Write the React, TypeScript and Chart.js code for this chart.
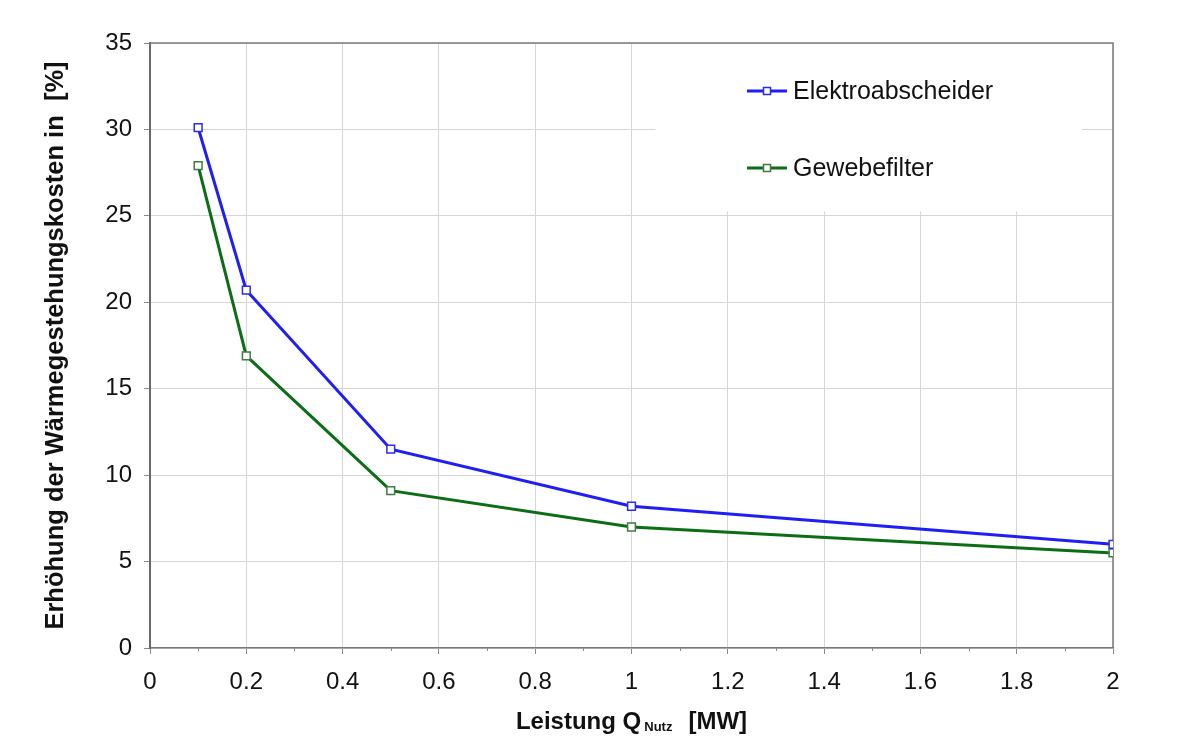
import React, { useEffect, useRef } from "react";
import { Chart, registerables } from "chart.js";

Chart.register(...registerables);

const xValues = [0.1, 0.2, 0.5, 1, 2];
const elektroabscheider = [30.1, 20.7, 11.5, 8.2, 6.0];
const gewebefilter = [27.9, 16.9, 9.1, 7.0, 5.5];
const seriesNames = ["Elektroabscheider", "Gewebefilter"];
const seriesColors = ["#1e1ef5", "#0b6e14"];
const markerBorders = ["#2a2af0", "#3f7a40"];
const yTitle = "Erhöhung der Wärmegestehungskosten in  [%]";
const xTitleMain = "Leistung Q";
const xTitleSub = "Nutz";
const xTitleUnit = "[MW]";

const FONT = "'Liberation Sans', Arial, Helvetica, sans-serif";

const customPlugin = {
  id: "custom",
  beforeDatasetsDraw(chart: any) {
    const { ctx, chartArea } = chart;
    const xs = chart.scales.x;
    const ys = chart.scales.y;
    ctx.save();
    // white legend box covering grid
    const bx0 = xs.getPixelForValue(1.05);
    const bx1 = xs.getPixelForValue(1.935);
    const by0 = chartArea.top + 1;
    const by1 = ys.getPixelForValue(25.25);
    ctx.fillStyle = "#ffffff";
    ctx.fillRect(bx0, by0, bx1 - bx0, by1 - by0);
    // top & right border
    ctx.strokeStyle = "#7a7a7a";
    ctx.lineWidth = 1.5;
    ctx.beginPath();
    ctx.moveTo(chartArea.left, chartArea.top);
    ctx.lineTo(chartArea.right, chartArea.top);
    ctx.lineTo(chartArea.right, chartArea.bottom);
    ctx.stroke();
    // minor ticks on x axis
    ctx.strokeStyle = "#8a8a8a";
    ctx.lineWidth = 1;
    for (let i = 1; i < 20; i += 2) {
      const px = Math.round(xs.getPixelForValue(i / 10)) + 0.5;
      ctx.beginPath();
      ctx.moveTo(px, chartArea.bottom);
      ctx.lineTo(px, chartArea.bottom + 3);
      ctx.stroke();
    }
    ctx.restore();
  },
  afterDraw(chart: any) {
    const { ctx, chartArea } = chart;
    ctx.save();
    // legend
    const lx0 = 747;
    const lx1 = 787;
    const rows = [91, 168];
    seriesNames.forEach((name, i) => {
      const y = rows[i];
      ctx.strokeStyle = seriesColors[i];
      ctx.lineWidth = 3;
      ctx.beginPath();
      ctx.moveTo(lx0, y);
      ctx.lineTo(lx1, y);
      ctx.stroke();
      ctx.fillStyle = "#ffffff";
      ctx.strokeStyle = markerBorders[i];
      ctx.lineWidth = 1.5;
      ctx.fillRect(763.5, y - 3.5, 7, 7);
      ctx.strokeRect(763.5, y - 3.5, 7, 7);
      ctx.fillStyle = "#111111";
      ctx.font = `25px ${FONT}`;
      ctx.textBaseline = "middle";
      ctx.textAlign = "left";
      ctx.fillText(name, 793, y + 1);
    });
    // x title with subscript
    const mainFont = `bold 24px ${FONT}`;
    const subFont = `bold 13px ${FONT}`;
    ctx.font = mainFont;
    const w1 = ctx.measureText(xTitleMain).width;
    const w3 = ctx.measureText(xTitleUnit).width;
    ctx.font = subFont;
    const w2 = ctx.measureText(xTitleSub).width;
    const gap1 = 3;
    const gap2 = 16;
    const total = w1 + gap1 + w2 + gap2 + w3;
    const cx = (chartArea.left + chartArea.right) / 2;
    let x = cx - total / 2;
    const base = 729;
    ctx.fillStyle = "#111111";
    ctx.textBaseline = "alphabetic";
    ctx.textAlign = "left";
    ctx.font = mainFont;
    ctx.fillText(xTitleMain, x, base);
    x += w1 + gap1;
    ctx.font = subFont;
    ctx.fillText(xTitleSub, x, base + 2);
    x += w2 + gap2;
    ctx.font = mainFont;
    ctx.fillText(xTitleUnit, x, base);
    ctx.restore();
  },
};

export default function App() {
  const canvasRef = useRef<HTMLCanvasElement | null>(null);

  useEffect(() => {
    if (!canvasRef.current) return;
    const makeData = (vals: number[]) => xValues.map((x, i) => ({ x, y: vals[i] }));
    const chart = new Chart(canvasRef.current, {
      type: "line",
      data: {
        datasets: [elektroabscheider, gewebefilter].map((vals, i) => ({
          label: seriesNames[i],
          data: makeData(vals),
          borderColor: seriesColors[i],
          borderWidth: 3,
          pointStyle: "rect",
          pointRadius: 5.5,
          pointBorderWidth: 1.5,
          pointBorderColor: markerBorders[i],
          pointBackgroundColor: "#ffffff",
          tension: 0,
          fill: false,
        })),
      },
      options: {
        animation: false,
        responsive: true,
        maintainAspectRatio: false,
        layout: { padding: { top: 43, right: 83, left: 0, bottom: 0 } },
        plugins: {
          legend: { display: false },
          tooltip: { enabled: false },
        },
        scales: {
          x: {
            type: "linear",
            min: 0,
            max: 2,
            afterFit: (s: any) => {
              s.height = 98;
            },
            ticks: {
              stepSize: 0.2,
              color: "#111111",
              font: { family: FONT, size: 24 },
              padding: 14,
              maxRotation: 0,
              callback: (v: any) => {
                const n = Math.round(Number(v) * 10) / 10;
                return String(n);
              },
            },
            grid: {
              color: "#d6d6d6",
              lineWidth: 1,
              tickLength: 6,
              tickColor: "#8a8a8a",
            },
            border: { color: "#7a7a7a", width: 1.5 },
          },
          y: {
            type: "linear",
            min: 0,
            max: 35,
            afterFit: (s: any) => {
              s.width = 150;
            },
            ticks: {
              stepSize: 5,
              color: "#111111",
              font: { family: FONT, size: 24 },
              padding: 12,
            },
            grid: {
              color: "#d6d6d6",
              lineWidth: 1,
              tickLength: 6,
              tickColor: "#8a8a8a",
            },
            border: { color: "#6a6a6a", width: 2 },
            title: {
              display: true,
              text: yTitle,
              color: "#111111",
              font: { family: FONT, size: 25.5, weight: "bold" },
              padding: { top: 41, bottom: 0 },
            },
          },
        },
      },
      plugins: [customPlugin],
    } as any);
    return () => chart.destroy();
  }, []);

  return (
    <div
      style={{
        position: "absolute",
        left: 0,
        top: 0,
        width: 1196,
        height: 746,
        background: "#ffffff",
      }}
    >
      <canvas ref={canvasRef} />
    </div>
  );
}
